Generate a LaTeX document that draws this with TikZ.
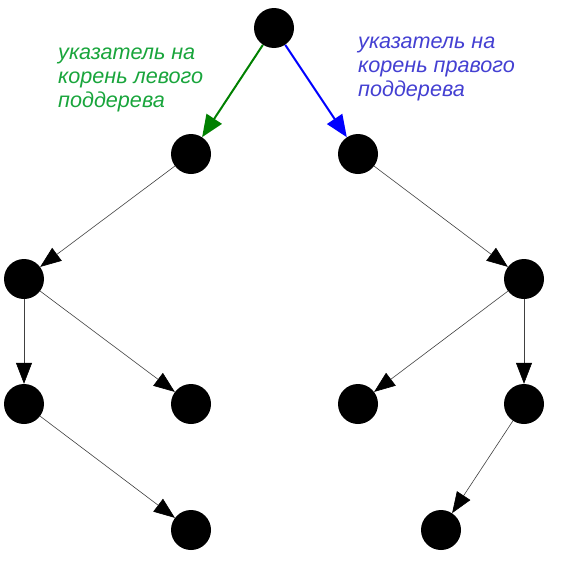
\documentclass[tikz,border=0pt]{standalone}
\usepackage{fontspec}
\setmainfont{Liberation Sans}
\usepackage{tikz}
\usetikzlibrary{arrows.meta, positioning}
\definecolor{leftarrow}{RGB}{0,128,0}
\definecolor{leftnote}{RGB}{25,165,60}
\definecolor{rightnote}{RGB}{68,64,210}

\begin{document}
\begin{tikzpicture}[
    vertex/.style={circle, fill=black, minimum size=40pt, inner sep=0pt},
    link/.style={-{Triangle[length=21pt, width=16pt, color=black]}, draw=black!75, line width=0.6pt},
    rootlink/.style={-{Triangle[length=22pt, width=18pt]}, line width=2pt},
    note/.style={anchor=north west, align=left, inner sep=0pt, font=\fontsize{21.6}{24}\selectfont\itshape},
    on grid
]
    \useasboundingbox (0pt,0pt) rectangle (569pt,-562pt);

    % Root and its two subtrees
    \node[vertex] (root) at (274pt,-28pt) {};
    \node[vertex, below left=126pt and 83pt of root] (l) {};
    \node[vertex, below right=126pt and 84pt of root] (r) {};

    % Left subtree
    \node[vertex, below left=125pt and 167pt of l] (ll) {};
    \node[vertex, below=125pt of ll] (lll) {};
    \node[vertex, below right=125pt and 167pt of ll] (llr) {};
    \node[vertex, below right=126pt and 167pt of lll] (lllr) {};

    % Right subtree
    \node[vertex, below right=125pt and 166pt of r] (rr) {};
    \node[vertex, below left=125pt and 166pt of rr] (rrl) {};
    \node[vertex, below=125pt of rr] (rrr) {};
    \node[vertex, below left=126pt and 83pt of rrr] (rrrl) {};

    % Pointers from the root
    \draw[rootlink, leftarrow] (root) -- (l);
    \draw[rootlink, blue] (root) -- (r);

    % Other edges
    \draw[link] (l) -- (ll);
    \draw[link] (ll) -- (lll);
    \draw[link] (ll) -- (llr);
    \draw[link] (lll) -- (lllr);
    \draw[link] (r) -- (rr);
    \draw[link] (rr) -- (rrl);
    \draw[link] (rr) -- (rrr);
    \draw[link] (rrr) -- (rrrl);

    % Labels
    \node[note, text=leftnote] (leftlabel) at (58pt,-47.5pt) {указатель на\\корень левого\\поддерева};
    \node[note, text=rightnote] (rightlabel) at (358pt,-37pt) {указатель на\\корень правого\\поддерева};

\end{tikzpicture}
\end{document}
